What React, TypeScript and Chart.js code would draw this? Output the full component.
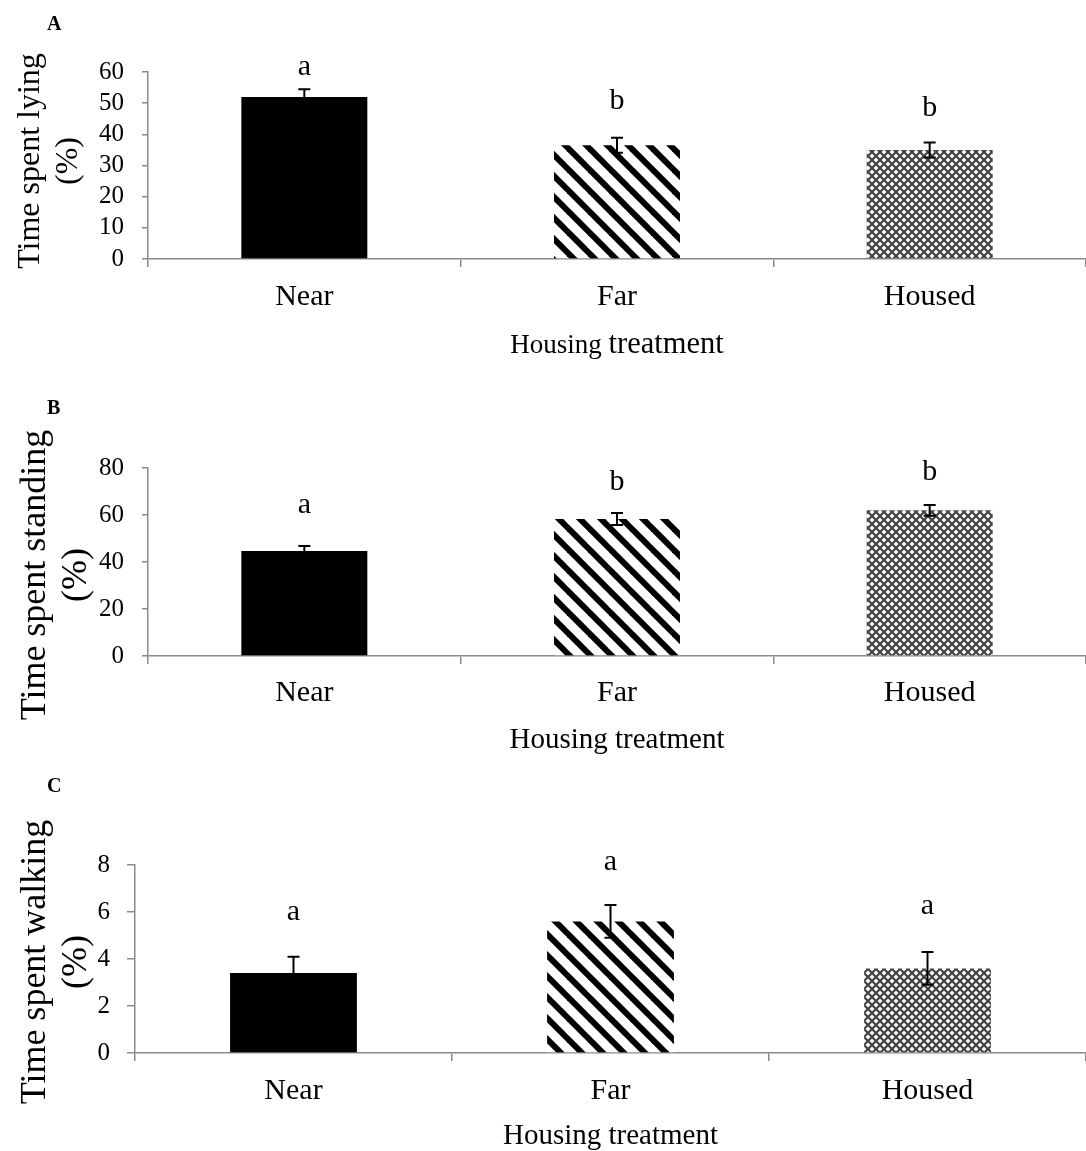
import React, { useEffect, useRef } from "react";
import { Chart, registerables } from "chart.js";

Chart.register(...registerables);

// ---------- data ----------
const categories = ["Near", "Far", "Housed"];

const lyingMeans = [52.0, 36.5, 35.0];
const lyingErrors = [2.5, 2.4, 2.4];
const lyingLetters = ["a", "b", "b"];

const standingMeans = [44.7, 58.3, 62.0];
const standingErrors = [2.1, 2.6, 2.3];
const standingLetters = ["a", "b", "b"];

const walkingMeans = [3.4, 5.6, 3.6];
const walkingErrors = [0.7, 0.7, 0.7];
const walkingLetters = ["a", "a", "a"];

const xTitleText = "Housing treatment";

// ---------- style ----------
const FONT = '"Liberation Serif", "Times New Roman", Times, serif';
const AXIS = "#8a8a8a";

function makeStripes(): CanvasPattern | string {
  const P = 21;
  const c = document.createElement("canvas");
  c.width = P;
  c.height = P;
  const g = c.getContext("2d");
  if (!g) return "#555";
  g.fillStyle = "#ffffff";
  g.fillRect(0, 0, P, P);
  g.strokeStyle = "#000000";
  g.lineWidth = 6;
  for (const k of [-1, 0, 1]) {
    g.beginPath();
    g.moveTo(-2, -2 + k * P);
    g.lineTo(P + 2, P + 2 + k * P);
    g.stroke();
  }
  return g.createPattern(c, "repeat") || "#555";
}

function makeDiamonds(): CanvasPattern | string {
  const P = 8;
  const c = document.createElement("canvas");
  c.width = P;
  c.height = P;
  const g = c.getContext("2d");
  if (!g) return "#999";
  g.fillStyle = "#f6f6f6";
  g.fillRect(0, 0, P, P);
  g.strokeStyle = "#404040";
  g.lineWidth = 2.0;
  for (const k of [-1, 0, 1]) {
    g.beginPath();
    g.moveTo(-2, -2 + k * P);
    g.lineTo(P + 2, P + 2 + k * P);
    g.stroke();
  }
  for (const k of [0, 1, 2]) {
    g.beginPath();
    g.moveTo(-2, k * P + 2);
    g.lineTo(P + 2, k * P - P - 2);
    g.stroke();
  }
  return g.createPattern(c, "repeat") || "#999";
}

type PanelCfg = {
  top: number;
  height: number;
  axisX: number;
  chartTop: number;
  chartBottom: number;
  yMax: number;
  yStep: number;
  yTitle: string[];
  yTitleSize: number;
  yTitleX: number;
  yTitleGap: number;
  yTitleCY: number;
  yTickLen: number;
  yTickPad: number;
  xTickPad: number;
  xTitlePad: number;
  splitTitle: boolean;
  means: number[];
  errors: number[];
  letters: string[];
  letterGaps: number[];
  panel: string;
  panelY: number;
  barPct: number;
};

const panels: PanelCfg[] = [
  {
    top: 0,
    height: 375,
    axisX: 148,
    chartTop: 72,
    chartBottom: 259,
    yMax: 60,
    yStep: 10,
    yTitle: ["Time spent lying", "(%)"],
    yTitleSize: 32,
    yTitleX: 31,
    yTitleGap: 38,
    yTitleCY: 161,
    yTickLen: 6,
    yTickPad: 18,
    xTickPad: 12,
    xTitlePad: 10,
    splitTitle: true,
    means: lyingMeans,
    errors: lyingErrors,
    letters: lyingLetters,
    letterGaps: [22, 37, 34],
    panel: "A",
    panelY: 25,
    barPct: 0.403,
  },
  {
    top: 380,
    height: 385,
    axisX: 148,
    chartTop: 88,
    chartBottom: 276,
    yMax: 80,
    yStep: 20,
    yTitle: ["Time spent standing", "(%)"],
    yTitleSize: 36,
    yTitleX: 36,
    yTitleGap: 41,
    yTitleCY: 195,
    yTickLen: 6,
    yTickPad: 18,
    xTickPad: 11,
    xTitlePad: 10,
    splitTitle: false,
    means: standingMeans,
    errors: standingErrors,
    letters: standingLetters,
    letterGaps: [41, 31, 33],
    panel: "B",
    panelY: 29,
    barPct: 0.403,
  },
  {
    top: 765,
    height: 386,
    axisX: 135,
    chartTop: 100,
    chartBottom: 288,
    yMax: 8,
    yStep: 2,
    yTitle: ["Time spent walking", "(%)"],
    yTitleSize: 36,
    yTitleX: 36,
    yTitleGap: 41,
    yTitleCY: 197,
    yTickLen: 8,
    yTickPad: 17,
    xTickPad: 12,
    xTitlePad: 0,
    splitTitle: false,
    means: walkingMeans,
    errors: walkingErrors,
    letters: walkingLetters,
    letterGaps: [45, 43, 46],
    panel: "C",
    panelY: 22,
    barPct: 0.4,
  },
];

function makeAnnotPlugin(cfg: PanelCfg) {
  return {
    id: "annot" + cfg.panel,
    afterDraw(chart: any) {
      const ctx = chart.ctx as CanvasRenderingContext2D;
      const meta = chart.getDatasetMeta(0);
      const y = chart.scales.y;
      ctx.save();
      meta.data.forEach((bar: any, i: number) => {
        const x = bar.x;
        const m = cfg.means[i];
        const e = cfg.errors[i];
        const yt = y.getPixelForValue(m + e);
        const yb = y.getPixelForValue(m - e);
        ctx.strokeStyle = "#000";
        ctx.lineWidth = 2;
        ctx.beginPath();
        ctx.moveTo(x, yt);
        ctx.lineTo(x, yb);
        ctx.moveTo(x - 6, yt);
        ctx.lineTo(x + 6, yt);
        ctx.moveTo(x - 6, yb);
        ctx.lineTo(x + 6, yb);
        ctx.stroke();
        ctx.fillStyle = "#000";
        ctx.font = `30px ${FONT}`;
        ctx.textAlign = "center";
        ctx.textBaseline = "middle";
        ctx.fillText(cfg.letters[i], x, yt - cfg.letterGaps[i]);
      });
      // panel letter
      ctx.fillStyle = "#000";
      ctx.font = `bold 20px ${FONT}`;
      ctx.textAlign = "left";
      ctx.textBaseline = "middle";
      ctx.fillText(cfg.panel, 47, cfg.panelY);
      // y-axis title (two lines, rotated)
      ctx.save();
      ctx.translate(cfg.yTitleX, cfg.yTitleCY);
      ctx.rotate(-Math.PI / 2);
      ctx.font = `${cfg.yTitleSize}px ${FONT}`;
      ctx.textAlign = "center";
      ctx.textBaseline = "middle";
      cfg.yTitle.forEach((line, i) => {
        ctx.fillText(line, 0, i * cfg.yTitleGap);
      });
      ctx.restore();
      // split-size x title for panel A
      if (cfg.splitTitle) {
        const area = chart.chartArea;
        const cx = (area.left + area.right) / 2;
        const [w1, w2] = xTitleText.split(" ");
        ctx.textAlign = "left";
        ctx.textBaseline = "alphabetic";
        ctx.font = `27px ${FONT}`;
        const a = ctx.measureText(w1 + " ").width;
        ctx.font = `30.5px ${FONT}`;
        const b = ctx.measureText(w2).width;
        const sx = cx - (a + b) / 2;
        const base = 353;
        ctx.font = `27px ${FONT}`;
        ctx.fillText(w1 + " ", sx, base);
        ctx.font = `30.5px ${FONT}`;
        ctx.fillText(w2, sx + a, base);
      }
      ctx.restore();
    },
  };
}

function Panel({ cfg }: { cfg: PanelCfg }) {
  const ref = useRef<HTMLCanvasElement | null>(null);
  useEffect(() => {
    if (!ref.current) return;
    const stripes = makeStripes();
    const diamonds = makeDiamonds();
    const chart = new Chart(ref.current, {
      type: "bar",
      data: {
        labels: categories,
        datasets: [
          {
            data: cfg.means,
            backgroundColor: ["#000000", stripes, diamonds] as any,
            borderWidth: 0,
            barPercentage: cfg.barPct,
            categoryPercentage: 1,
          },
        ],
      },
      options: {
        animation: false,
        responsive: false,
        devicePixelRatio: 1,
        layout: { padding: { top: cfg.chartTop, left: 0, right: 0, bottom: 0 } },
        plugins: {
          legend: { display: false },
          tooltip: { enabled: false },
          title: { display: false },
        },
        scales: {
          x: {
            type: "category",
            offset: true,
            grid: {
              offset: true,
              drawOnChartArea: false,
              drawTicks: true,
              tickLength: 8,
              color: AXIS,
              lineWidth: 1.5,
            },
            border: { color: AXIS, width: 1.5 },
            ticks: {
              color: "#000",
              font: { family: FONT, size: 30, lineHeight: 1.2 },
              padding: cfg.xTickPad,
              maxRotation: 0,
              autoSkip: false,
            },
            title: {
              display: !cfg.splitTitle,
              text: xTitleText,
              color: "#000",
              font: { family: FONT, size: 29, lineHeight: 1 },
              padding: { top: 0, bottom: cfg.xTitlePad },
            },
            afterFit: (s: any) => {
              s.height = cfg.height - cfg.chartBottom;
            },
          },
          y: {
            min: 0,
            max: cfg.yMax,
            ticks: {
              stepSize: cfg.yStep,
              autoSkip: false,
              color: "#000",
              font: { family: FONT, size: 25 },
              padding: cfg.yTickPad,
            },
            grid: {
              drawOnChartArea: false,
              drawTicks: true,
              tickLength: cfg.yTickLen,
              color: AXIS,
              lineWidth: 1.5,
            },
            border: { color: AXIS, width: 1.5 },
            title: { display: false },
            afterFit: (s: any) => {
              s.width = cfg.axisX;
            },
          },
        },
      } as any,
      plugins: [makeAnnotPlugin(cfg)],
    });
    return () => chart.destroy();
  }, []);
  return (
    <div
      style={{
        position: "absolute",
        left: 0,
        top: cfg.top,
        width: 1086,
        height: cfg.height,
      }}
    >
      <canvas
        ref={ref}
        width={1086}
        height={cfg.height}
        style={{ width: 1086, height: cfg.height, display: "block" }}
      />
    </div>
  );
}

export default function App() {
  return (
    <div
      style={{
        position: "absolute",
        left: 0,
        top: 0,
        width: 1086,
        height: 1151,
        background: "#fff",
        overflow: "hidden",
      }}
    >
      {panels.map((p) => (
        <Panel key={p.panel} cfg={p} />
      ))}
    </div>
  );
}
